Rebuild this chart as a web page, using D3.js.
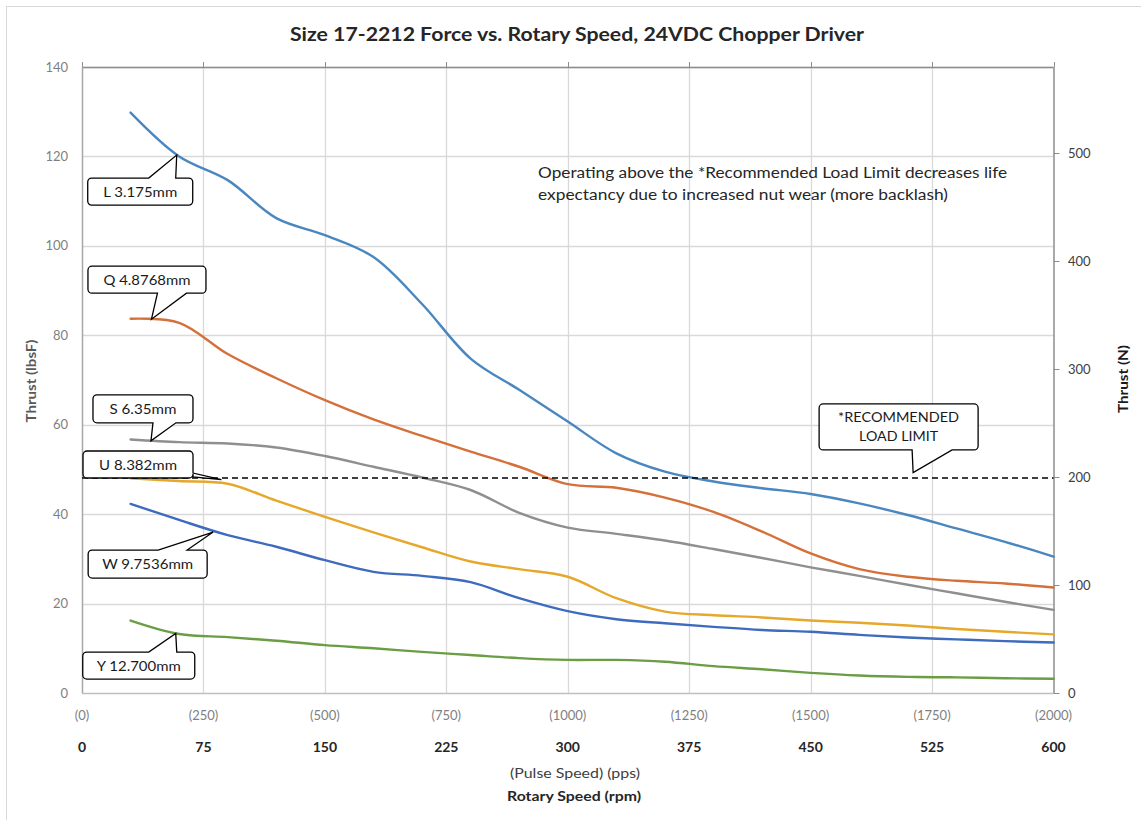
<!DOCTYPE html>
<html><head><meta charset="utf-8">
<script src="https://cdn.jsdelivr.net/npm/d3@7"></script>
<style>
html,body{margin:0;padding:0;background:#fff;}
svg{display:block;font-family:Lato,"Open Sans",sans-serif;}
</style></head>
<body>
<svg id="chart" width="1141" height="820"></svg>
<script>
// ---------- data ----------
const pps = [100,200,300,400,500,600,700,800,900,1000,1100,1200,1300,1400,1500,1600,1700,1800,1900,2000];
const seriesL = [129.8,120.0,114.7,106.2,102.4,97.5,87.0,74.8,67.8,60.7,53.6,49.5,47.3,45.8,44.5,42.4,39.8,36.8,33.8,30.5];
const seriesQ = [83.7,82.8,75.8,70.4,65.5,61.2,57.5,54.0,50.6,46.7,45.9,43.7,40.5,36.1,31.2,27.7,26.0,25.1,24.5,23.6];
const seriesS = [56.7,56.1,55.8,54.9,53.0,50.6,48.2,45.4,40.3,37.0,35.6,34.1,32.2,30.2,28.1,26.2,24.2,22.3,20.4,18.6];
const seriesU = [48.0,47.4,46.8,43.0,39.4,35.9,32.6,29.4,27.7,26.0,21.2,18.2,17.4,16.9,16.2,15.7,15.1,14.3,13.7,13.1];
const seriesW = [42.3,38.7,35.3,32.7,29.7,27.1,26.2,24.8,21.2,18.3,16.5,15.6,14.8,14.1,13.7,13.0,12.4,12.0,11.6,11.3];
const seriesY = [16.2,13.2,12.5,11.7,10.7,10.0,9.2,8.5,7.8,7.4,7.4,7.0,6.0,5.3,4.5,3.9,3.6,3.5,3.3,3.2];
const seriesNames = ["L 3.175mm","Q 4.8768mm","S 6.35mm","U 8.382mm","W 9.7536mm","Y 12.700mm"];
const seriesColors = ["#4a87c0","#d5703a","#8f8f8f","#e6a82a","#3e6bbd","#6a9d44"];
const loadLimit = 48.1;              // lbf (≈200 N on secondary axis)
const ppsTicks = [0,250,500,750,1000,1250,1500,1750,2000];
const rpmTicks = [0,75,150,225,300,375,450,525,600];
const lbfTicks = [0,20,40,60,80,100,120,140];
const newtonTicks = [0,100,200,300,400,500];
// callouts: tip in data coords (pps, lbf); box offsets in px relative to tip
const callouts = [
  {lines:["L 3.175mm"], tip:[195,120.3], box:[-89,23,105,27], side:"top", base:[-28,-1]},
  {lines:["Q 4.8768mm"], tip:[143,83.6], box:[-63.5,-53,118,27], side:"bottom", base:[6,35]},
  {lines:["S 6.35mm"], tip:[142,56.4], box:[-58,-46,100,28], side:"bottom", base:[2,25]},
  {lines:["U 8.382mm"], tip:[287,47.7], box:[-138.4,-28.7,110,27], side:"right", base:[-6.7,-2.7]},
  {lines:["W 9.7536mm"], tip:[270,36.0], box:[-125,18,119,28], side:"top", base:[-55,-26]},
  {lines:["Y 12.700mm"], tip:[193,13.3], box:[-93,18.5,112,27], side:"top", base:[-27,1]},
  {lines:["*RECOMMENDED","LOAD LIMIT"], tip:[1711,49.3], box:[-94,-68.6,159,46], side:"bottom", base:[-1,39]}
];
const calloutWidths = [[74],[87],[67],[78],[91],[84],[121,79]];

// ---------- layout ----------
const svg = d3.select("#chart");
const L = 82, R = 1053.5, T = 67, B = 693;
const x = d3.scaleLinear().domain([0,2000]).range([L,R]);
const y = d3.scaleLinear().domain([0,140]).range([B,T]);
const yN = d3.scaleLinear().domain([0,580]).range([B,T]);

// outer chart border
svg.append("rect").attr("x",6.5).attr("y",6.5).attr("width",1160).attr("height",840)
  .attr("fill","#fff").attr("stroke","#d9d9d9").attr("stroke-width",1);

// title
svg.append("text").attr("x",577).attr("y",41).attr("text-anchor","middle")
  .attr("font-size",19.5).attr("font-weight","bold").attr("fill","#262626")
  .attr("textLength",574).attr("lengthAdjust","spacingAndGlyphs")
  .text("Size 17-2212 Force vs. Rotary Speed, 24VDC Chopper Driver");

// gridlines
const g = svg.append("g");
g.selectAll("line.hg").data(lbfTicks.slice(1)).join("line")
  .attr("x1",L).attr("x2",R).attr("y1",d=>Math.round(y(d))+0.5).attr("y2",d=>Math.round(y(d))+0.5)
  .attr("stroke","#d9d9d9").attr("stroke-width",1.3);
g.selectAll("line.vg").data(ppsTicks.slice(1,-1)).join("line")
  .attr("y1",T).attr("y2",B).attr("x1",d=>Math.round(x(d))+0.5).attr("x2",d=>Math.round(x(d))+0.5)
  .attr("stroke","#d9d9d9").attr("stroke-width",1.3);

// top secondary axis (ticks only)
svg.append("line").attr("x1",L).attr("x2",R).attr("y1",T+0.5).attr("y2",T+0.5).attr("stroke","#8c8c8c").attr("stroke-width",1.3);
svg.selectAll("line.tt").data(ppsTicks).join("line")
  .attr("x1",d=>Math.round(x(d))+0.5).attr("x2",d=>Math.round(x(d))+0.5).attr("y1",T-5).attr("y2",T)
  .attr("stroke","#8c8c8c").attr("stroke-width",1);

// left axis
svg.append("line").attr("x1",L+0.5).attr("x2",L+0.5).attr("y1",T).attr("y2",B).attr("stroke","#a6a6a6").attr("stroke-width",1.5);
svg.selectAll("text.ly").data(lbfTicks).join("text")
  .attr("x",68).attr("y",d=>y(d)+4.5).attr("text-anchor","end")
  .attr("font-size",13).attr("fill","#7f7f7f").text(d=>d);

// bottom axis
svg.append("line").attr("x1",L).attr("x2",R).attr("y1",B+0.5).attr("y2",B+0.5).attr("stroke","#bfbfbf").attr("stroke-width",1.5);
svg.selectAll("text.bx").data(ppsTicks).join("text")
  .attr("x",d=>x(d)).attr("y",719.5).attr("text-anchor","middle")
  .attr("font-size",13).attr("fill","#7f7f7f").text(d=>"("+d+")");
svg.selectAll("text.rpm").data(rpmTicks).join("text")
  .attr("x",(d,i)=>x(ppsTicks[i])).attr("y",751.5).attr("text-anchor","middle")
  .attr("font-size",14).attr("font-weight","bold").attr("fill","#262626").text(d=>d);
svg.append("text").attr("x",575).attr("y",778).attr("text-anchor","middle")
  .attr("font-size",14).attr("fill","#404040").attr("textLength",130).attr("lengthAdjust","spacingAndGlyphs")
  .text("(Pulse Speed) (pps)");
svg.append("text").attr("x",574).attr("y",801).attr("text-anchor","middle")
  .attr("font-size",14).attr("font-weight","bold").attr("fill","#262626").attr("textLength",134).attr("lengthAdjust","spacingAndGlyphs")
  .text("Rotary Speed (rpm)");

// right axis
svg.append("line").attr("x1",R+0.5).attr("x2",R+0.5).attr("y1",T).attr("y2",B).attr("stroke","#8c8c8c").attr("stroke-width",1.5);
svg.selectAll("line.rt").data(newtonTicks).join("line")
  .attr("x1",R).attr("x2",R+6).attr("y1",d=>Math.round(yN(d))+0.5).attr("y2",d=>Math.round(yN(d))+0.5)
  .attr("stroke","#8c8c8c").attr("stroke-width",1);
svg.selectAll("text.ry").data(newtonTicks).join("text")
  .attr("x",1068).attr("y",d=>yN(d)+4.5).attr("text-anchor","start")
  .attr("font-size",13).attr("fill","#404040").text(d=>d);

// axis titles
svg.append("text").attr("transform","translate(36,381) rotate(-90)").attr("text-anchor","middle")
  .attr("font-size",13).attr("font-weight","bold").attr("fill","#595959")
  .attr("textLength",83).attr("lengthAdjust","spacingAndGlyphs").text("Thrust (lbsF)");
svg.append("text").attr("transform","translate(1128,379) rotate(-90)").attr("text-anchor","middle")
  .attr("font-size",13).attr("font-weight","bold").attr("fill","#1a1a1a")
  .attr("textLength",68).attr("lengthAdjust","spacingAndGlyphs").text("Thrust (N)");

// series lines
const allSeries = [seriesL,seriesQ,seriesS,seriesU,seriesW,seriesY];
const line = d3.line().x((d,i)=>x(pps[i])).y(d=>y(d)).curve(d3.curveCatmullRom.alpha(0.5));
svg.append("g").selectAll("path").data(allSeries).join("path")
  .attr("d",d=>line(d)).attr("fill","none")
  .attr("stroke",(d,i)=>seriesColors[i]).attr("stroke-width",2.4).attr("stroke-linejoin","round").attr("stroke-linecap","round");

// recommended load limit
svg.append("line").attr("x1",L).attr("x2",R).attr("y1",y(loadLimit)).attr("y2",y(loadLimit))
  .attr("stroke","#000").attr("stroke-width",1.5).attr("stroke-dasharray","6,4");

// note text
const note = ["Operating above the *Recommended Load Limit decreases life","expectancy due to increased nut wear (more backlash)"];
const noteW = [469,410];
svg.selectAll("text.note").data(note).join("text")
  .attr("x",538).attr("y",(d,i)=>178+i*22).attr("font-size",15.5).attr("fill","#262626")
  .attr("textLength",(d,i)=>noteW[i]).attr("lengthAdjust","spacingAndGlyphs").text(d=>d);

// callouts
function calloutPath(c){
  const tx = x(c.tip[0]), ty = y(c.tip[1]);
  const x0 = tx + c.box[0], y0 = ty + c.box[1], x1 = x0 + c.box[2], y1 = y0 + c.box[3], r = 4;
  const p = d3.path();
  p.moveTo(x0+r,y0);
  if(c.side==="top"){ p.lineTo(tx+c.base[0],y0); p.lineTo(tx,ty); p.lineTo(tx+c.base[1],y0); }
  p.lineTo(x1-r,y0); p.arcTo(x1,y0,x1,y0+r,r);
  if(c.side==="right"){ p.lineTo(x1,ty+c.base[0]); p.lineTo(tx,ty); p.lineTo(x1,ty+c.base[1]); }
  p.lineTo(x1,y1-r); p.arcTo(x1,y1,x1-r,y1,r);
  if(c.side==="bottom"){ p.lineTo(tx+c.base[1],y1); p.lineTo(tx,ty); p.lineTo(tx+c.base[0],y1); }
  p.lineTo(x0+r,y1); p.arcTo(x0,y1,x0,y1-r,r);
  p.lineTo(x0,y0+r); p.arcTo(x0,y0,x0+r,y0,r);
  p.closePath();
  return {d:p.toString(), cx:(x0+x1)/2, cy:(y0+y1)/2};
}
const cg = svg.append("g");
callouts.forEach((c,k)=>{
  const cp = calloutPath(c);
  cg.append("path").attr("d",cp.d).attr("fill","#fff").attr("stroke","#000").attr("stroke-width",1.3).attr("stroke-linejoin","miter");
  const n = c.lines.length;
  c.lines.forEach((t,i)=>{
    cg.append("text").attr("x",cp.cx).attr("y",cp.cy + (i-(n-1)/2)*19 + 5)
      .attr("text-anchor","middle").attr("font-size",14).attr("fill","#1a1a1a")
      .attr("textLength",calloutWidths[k][i]).attr("lengthAdjust","spacingAndGlyphs").text(t);
  });
});
</script>
</body></html>
